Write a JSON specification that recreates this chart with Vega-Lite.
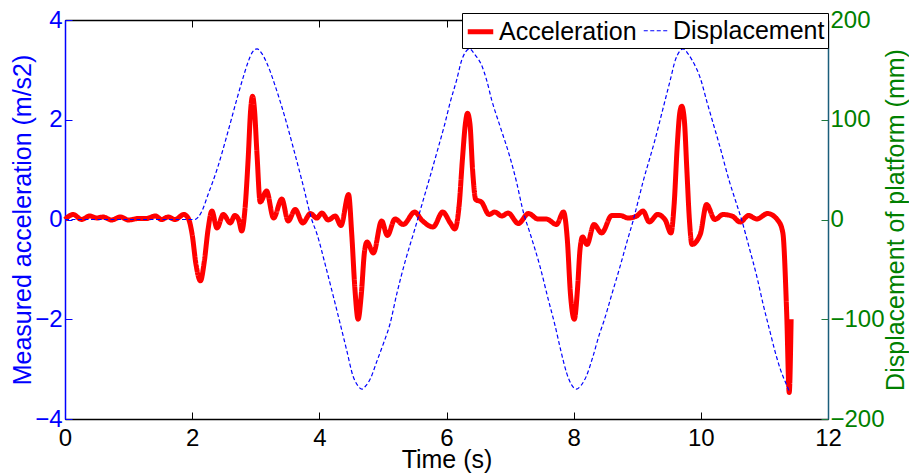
{
  "$schema": "https://vega.github.io/schema/vega-lite/v6.json",
  "width": 763,
  "height": 399,
  "autosize": {"type": "none"},
  "padding": {"left": 65, "top": 20, "right": 81, "bottom": 55},
  "background": "white",
  "config": {
    "font": "Liberation Sans",
    "view": {"stroke": "black", "strokeWidth": 1},
    "axis": {"grid": false, "labelFont": "Liberation Sans", "titleFont": "Liberation Sans", "labelFontSize": 24, "titleFontSize": 25, "titleFontWeight": "normal", "tickSize": -7, "domainWidth": 1.5, "tickWidth": 1}
  },
  "datasets": {
    "acc": [
      {"t": 0, "v": 0, "series": "Acceleration"},
      {"t": 0.13, "v": 0.1, "series": "Acceleration"},
      {"t": 0.26, "v": 0, "series": "Acceleration"},
      {"t": 0.39, "v": 0.07, "series": "Acceleration"},
      {"t": 0.5, "v": 0.03, "series": "Acceleration"},
      {"t": 0.6, "v": 0.05, "series": "Acceleration"},
      {"t": 0.73, "v": -0.01, "series": "Acceleration"},
      {"t": 0.87, "v": 0.05, "series": "Acceleration"},
      {"t": 1.0, "v": -0.01, "series": "Acceleration"},
      {"t": 1.15, "v": 0.02, "series": "Acceleration"},
      {"t": 1.28, "v": 0.02, "series": "Acceleration"},
      {"t": 1.42, "v": 0.07, "series": "Acceleration"},
      {"t": 1.52, "v": 0, "series": "Acceleration"},
      {"t": 1.62, "v": 0.05, "series": "Acceleration"},
      {"t": 1.73, "v": 0, "series": "Acceleration"},
      {"t": 1.87, "v": 0.1, "series": "Acceleration"},
      {"t": 1.94, "v": 0.02, "series": "Acceleration"},
      {"t": 2.0, "v": -0.3, "series": "Acceleration"},
      {"t": 2.06, "v": -0.9, "series": "Acceleration"},
      {"t": 2.13, "v": -1.23, "series": "Acceleration"},
      {"t": 2.19, "v": -0.85, "series": "Acceleration"},
      {"t": 2.25, "v": -0.2, "series": "Acceleration"},
      {"t": 2.31, "v": 0.17, "series": "Acceleration"},
      {"t": 2.39, "v": -0.17, "series": "Acceleration"},
      {"t": 2.49, "v": 0.1, "series": "Acceleration"},
      {"t": 2.6, "v": -0.07, "series": "Acceleration"},
      {"t": 2.67, "v": 0.08, "series": "Acceleration"},
      {"t": 2.73, "v": 0, "series": "Acceleration"},
      {"t": 2.78, "v": -0.23, "series": "Acceleration"},
      {"t": 2.83, "v": 0.2, "series": "Acceleration"},
      {"t": 2.88, "v": 1.2, "series": "Acceleration"},
      {"t": 2.92, "v": 2.2, "series": "Acceleration"},
      {"t": 2.95, "v": 2.47, "series": "Acceleration"},
      {"t": 2.98, "v": 2.2, "series": "Acceleration"},
      {"t": 3.02, "v": 1.3, "series": "Acceleration"},
      {"t": 3.07, "v": 0.35, "series": "Acceleration"},
      {"t": 3.17, "v": 0.57, "series": "Acceleration"},
      {"t": 3.28, "v": 0.03, "series": "Acceleration"},
      {"t": 3.41, "v": 0.41, "series": "Acceleration"},
      {"t": 3.51, "v": -0.03, "series": "Acceleration"},
      {"t": 3.62, "v": 0.2, "series": "Acceleration"},
      {"t": 3.74, "v": -0.07, "series": "Acceleration"},
      {"t": 3.86, "v": 0.12, "series": "Acceleration"},
      {"t": 3.96, "v": 0.03, "series": "Acceleration"},
      {"t": 4.04, "v": 0.13, "series": "Acceleration"},
      {"t": 4.14, "v": -0.01, "series": "Acceleration"},
      {"t": 4.25, "v": 0.07, "series": "Acceleration"},
      {"t": 4.34, "v": -0.12, "series": "Acceleration"},
      {"t": 4.46, "v": 0.5, "series": "Acceleration"},
      {"t": 4.51, "v": -0.3, "series": "Acceleration"},
      {"t": 4.56, "v": -1.4, "series": "Acceleration"},
      {"t": 4.61, "v": -2.0, "series": "Acceleration"},
      {"t": 4.66, "v": -1.5, "series": "Acceleration"},
      {"t": 4.71, "v": -0.65, "series": "Acceleration"},
      {"t": 4.75, "v": -0.45, "series": "Acceleration"},
      {"t": 4.85, "v": -0.67, "series": "Acceleration"},
      {"t": 4.98, "v": -0.03, "series": "Acceleration"},
      {"t": 5.07, "v": -0.32, "series": "Acceleration"},
      {"t": 5.19, "v": 0.01, "series": "Acceleration"},
      {"t": 5.32, "v": -0.1, "series": "Acceleration"},
      {"t": 5.5, "v": 0.15, "series": "Acceleration"},
      {"t": 5.61, "v": -0.01, "series": "Acceleration"},
      {"t": 5.79, "v": -0.15, "series": "Acceleration"},
      {"t": 5.94, "v": 0.15, "series": "Acceleration"},
      {"t": 6.06, "v": -0.07, "series": "Acceleration"},
      {"t": 6.13, "v": -0.19, "series": "Acceleration"},
      {"t": 6.2, "v": 0.3, "series": "Acceleration"},
      {"t": 6.25, "v": 1.2, "series": "Acceleration"},
      {"t": 6.3, "v": 1.95, "series": "Acceleration"},
      {"t": 6.33, "v": 2.13, "series": "Acceleration"},
      {"t": 6.37, "v": 1.9, "series": "Acceleration"},
      {"t": 6.41, "v": 1.0, "series": "Acceleration"},
      {"t": 6.46, "v": 0.4, "series": "Acceleration"},
      {"t": 6.55, "v": 0.35, "series": "Acceleration"},
      {"t": 6.67, "v": 0.1, "series": "Acceleration"},
      {"t": 6.76, "v": 0.15, "series": "Acceleration"},
      {"t": 6.87, "v": 0.07, "series": "Acceleration"},
      {"t": 6.97, "v": 0.13, "series": "Acceleration"},
      {"t": 7.13, "v": -0.08, "series": "Acceleration"},
      {"t": 7.29, "v": 0.12, "series": "Acceleration"},
      {"t": 7.44, "v": 0.01, "series": "Acceleration"},
      {"t": 7.57, "v": 0.01, "series": "Acceleration"},
      {"t": 7.73, "v": -0.1, "series": "Acceleration"},
      {"t": 7.84, "v": 0.15, "series": "Acceleration"},
      {"t": 7.9, "v": -0.4, "series": "Acceleration"},
      {"t": 7.95, "v": -1.5, "series": "Acceleration"},
      {"t": 8.01, "v": -2.0, "series": "Acceleration"},
      {"t": 8.06, "v": -1.4, "series": "Acceleration"},
      {"t": 8.1, "v": -0.6, "series": "Acceleration"},
      {"t": 8.14, "v": -0.35, "series": "Acceleration"},
      {"t": 8.21, "v": -0.5, "series": "Acceleration"},
      {"t": 8.32, "v": -0.1, "series": "Acceleration"},
      {"t": 8.44, "v": -0.27, "series": "Acceleration"},
      {"t": 8.6, "v": 0.08, "series": "Acceleration"},
      {"t": 8.73, "v": 0.08, "series": "Acceleration"},
      {"t": 8.86, "v": 0.03, "series": "Acceleration"},
      {"t": 8.99, "v": 0.07, "series": "Acceleration"},
      {"t": 9.09, "v": 0.17, "series": "Acceleration"},
      {"t": 9.19, "v": -0.05, "series": "Acceleration"},
      {"t": 9.32, "v": 0.1, "series": "Acceleration"},
      {"t": 9.44, "v": -0.01, "series": "Acceleration"},
      {"t": 9.53, "v": -0.27, "series": "Acceleration"},
      {"t": 9.58, "v": 0.3, "series": "Acceleration"},
      {"t": 9.63, "v": 1.5, "series": "Acceleration"},
      {"t": 9.67, "v": 2.15, "series": "Acceleration"},
      {"t": 9.7, "v": 2.27, "series": "Acceleration"},
      {"t": 9.74, "v": 2.0, "series": "Acceleration"},
      {"t": 9.78, "v": 1.0, "series": "Acceleration"},
      {"t": 9.82, "v": 0.0, "series": "Acceleration"},
      {"t": 9.86, "v": -0.5, "series": "Acceleration"},
      {"t": 9.99, "v": -0.3, "series": "Acceleration"},
      {"t": 10.09, "v": 0.3, "series": "Acceleration"},
      {"t": 10.22, "v": 0, "series": "Acceleration"},
      {"t": 10.35, "v": 0.1, "series": "Acceleration"},
      {"t": 10.49, "v": 0.07, "series": "Acceleration"},
      {"t": 10.62, "v": -0.05, "series": "Acceleration"},
      {"t": 10.75, "v": 0.08, "series": "Acceleration"},
      {"t": 10.88, "v": 0.01, "series": "Acceleration"},
      {"t": 11.05, "v": 0.12, "series": "Acceleration"},
      {"t": 11.22, "v": -0.03, "series": "Acceleration"},
      {"t": 11.29, "v": -0.27, "series": "Acceleration"},
      {"t": 11.35, "v": -1.87, "series": "Acceleration"},
      {"t": 11.39, "v": -3.47, "series": "Acceleration"},
      {"t": 11.42, "v": -2.0, "series": "Acceleration"}
    ],
    "disp": [
      {"t": 0, "v": 0, "series": "Displacement"},
      {"t": 1.0, "v": 0, "series": "Displacement"},
      {"t": 2.04, "v": 0, "series": "Displacement"},
      {"t": 2.15, "v": 8, "series": "Displacement"},
      {"t": 2.25, "v": 25, "series": "Displacement"},
      {"t": 2.4, "v": 52, "series": "Displacement"},
      {"t": 2.55, "v": 85, "series": "Displacement"},
      {"t": 2.7, "v": 120, "series": "Displacement"},
      {"t": 2.8, "v": 142, "series": "Displacement"},
      {"t": 2.88, "v": 158, "series": "Displacement"},
      {"t": 2.95, "v": 168, "series": "Displacement"},
      {"t": 3.02, "v": 171, "series": "Displacement"},
      {"t": 3.1, "v": 166, "series": "Displacement"},
      {"t": 3.18, "v": 156, "series": "Displacement"},
      {"t": 3.3, "v": 135, "series": "Displacement"},
      {"t": 3.47, "v": 100, "series": "Displacement"},
      {"t": 3.59, "v": 72, "series": "Displacement"},
      {"t": 3.75, "v": 33, "series": "Displacement"},
      {"t": 3.88, "v": 0, "series": "Displacement"},
      {"t": 3.96, "v": -14, "series": "Displacement"},
      {"t": 4.1, "v": -47, "series": "Displacement"},
      {"t": 4.22, "v": -77, "series": "Displacement"},
      {"t": 4.33, "v": -105, "series": "Displacement"},
      {"t": 4.43, "v": -131, "series": "Displacement"},
      {"t": 4.53, "v": -157, "series": "Displacement"},
      {"t": 4.6, "v": -166, "series": "Displacement"},
      {"t": 4.67, "v": -170, "series": "Displacement"},
      {"t": 4.74, "v": -166, "series": "Displacement"},
      {"t": 4.8, "v": -160, "series": "Displacement"},
      {"t": 4.9, "v": -143, "series": "Displacement"},
      {"t": 5.01, "v": -124, "series": "Displacement"},
      {"t": 5.11, "v": -105, "series": "Displacement"},
      {"t": 5.22, "v": -74, "series": "Displacement"},
      {"t": 5.35, "v": -42, "series": "Displacement"},
      {"t": 5.5, "v": -10, "series": "Displacement"},
      {"t": 5.6, "v": 12, "series": "Displacement"},
      {"t": 5.75, "v": 45, "series": "Displacement"},
      {"t": 5.87, "v": 72, "series": "Displacement"},
      {"t": 5.97, "v": 95, "series": "Displacement"},
      {"t": 6.06, "v": 118, "series": "Displacement"},
      {"t": 6.16, "v": 140, "series": "Displacement"},
      {"t": 6.24, "v": 160, "series": "Displacement"},
      {"t": 6.3, "v": 168, "series": "Displacement"},
      {"t": 6.36, "v": 171, "series": "Displacement"},
      {"t": 6.45, "v": 165, "series": "Displacement"},
      {"t": 6.55, "v": 155, "series": "Displacement"},
      {"t": 6.63, "v": 140, "series": "Displacement"},
      {"t": 6.71, "v": 120, "series": "Displacement"},
      {"t": 6.85, "v": 92, "series": "Displacement"},
      {"t": 7.0, "v": 62, "series": "Displacement"},
      {"t": 7.1, "v": 38, "series": "Displacement"},
      {"t": 7.21, "v": 7, "series": "Displacement"},
      {"t": 7.31, "v": -13, "series": "Displacement"},
      {"t": 7.47, "v": -47, "series": "Displacement"},
      {"t": 7.6, "v": -80, "series": "Displacement"},
      {"t": 7.71, "v": -107, "series": "Displacement"},
      {"t": 7.8, "v": -132, "series": "Displacement"},
      {"t": 7.89, "v": -154, "series": "Displacement"},
      {"t": 7.97, "v": -166, "series": "Displacement"},
      {"t": 8.04, "v": -170, "series": "Displacement"},
      {"t": 8.12, "v": -166, "series": "Displacement"},
      {"t": 8.2, "v": -157, "series": "Displacement"},
      {"t": 8.3, "v": -138, "series": "Displacement"},
      {"t": 8.41, "v": -114, "series": "Displacement"},
      {"t": 8.47, "v": -103, "series": "Displacement"},
      {"t": 8.6, "v": -75, "series": "Displacement"},
      {"t": 8.73, "v": -47, "series": "Displacement"},
      {"t": 8.84, "v": -22, "series": "Displacement"},
      {"t": 8.94, "v": 0, "series": "Displacement"},
      {"t": 9.02, "v": 20, "series": "Displacement"},
      {"t": 9.1, "v": 40, "series": "Displacement"},
      {"t": 9.2, "v": 62, "series": "Displacement"},
      {"t": 9.28, "v": 80, "series": "Displacement"},
      {"t": 9.4, "v": 110, "series": "Displacement"},
      {"t": 9.52, "v": 140, "series": "Displacement"},
      {"t": 9.6, "v": 160, "series": "Displacement"},
      {"t": 9.66, "v": 168, "series": "Displacement"},
      {"t": 9.72, "v": 171, "series": "Displacement"},
      {"t": 9.8, "v": 166, "series": "Displacement"},
      {"t": 9.86, "v": 160, "series": "Displacement"},
      {"t": 9.99, "v": 142, "series": "Displacement"},
      {"t": 10.1, "v": 117, "series": "Displacement"},
      {"t": 10.2, "v": 95, "series": "Displacement"},
      {"t": 10.3, "v": 73, "series": "Displacement"},
      {"t": 10.45, "v": 38, "series": "Displacement"},
      {"t": 10.55, "v": 18, "series": "Displacement"},
      {"t": 10.64, "v": 0, "series": "Displacement"},
      {"t": 10.76, "v": -28, "series": "Displacement"},
      {"t": 10.88, "v": -57, "series": "Displacement"},
      {"t": 10.98, "v": -85, "series": "Displacement"},
      {"t": 11.09, "v": -113, "series": "Displacement"},
      {"t": 11.17, "v": -133, "series": "Displacement"},
      {"t": 11.25, "v": -150, "series": "Displacement"},
      {"t": 11.33, "v": -163, "series": "Displacement"},
      {"t": 11.39, "v": -172, "series": "Displacement"}
    ]
  },
  "resolve": {"scale": {"y": "independent"}, "axis": {"x": "independent", "y": "independent"}},
  "layer": [
    {
      "data": {"name": "acc"},
      "mark": {"type": "line", "interpolate": "monotone", "strokeCap": "butt", "strokeJoin": "round"},
      "encoding": {
        "x": {"field": "t", "type": "quantitative", "scale": {"domain": [0, 12], "nice": false},
          "axis": {"orient": "bottom", "values": [0, 2, 4, 6, 8, 10, 12], "title": "Time (s)", "domainColor": "black", "tickColor": "black", "labelColor": "black", "titleColor": "black", "labelPadding": 14, "titlePadding": -3, "labelFlush": false}},
        "y": {"field": "v", "type": "quantitative", "scale": {"domain": [-4, 4], "nice": false},
          "axis": {"orient": "left", "values": [-4, -2, 0, 2, 4], "title": "Measured acceleration (m/s2)", "domainColor": "#0000ff", "tickColor": "#0000ff", "labelColor": "#0000ff", "titleColor": "#0000ff", "labelPadding": 10, "titlePadding": -1, "labelFlush": false}},
        "color": {"field": "series", "type": "nominal", "scale": {"domain": ["Acceleration", "Displacement"], "range": ["#ff0000", "#0000ff"]},
          "legend": {"orient": "none", "legendX": 397, "legendY": -7, "direction": "horizontal", "title": null, "labelFontSize": 25, "labelColor": "black", "labelFont": "Liberation Sans", "symbolType": "stroke", "symbolSize": 650, "strokeColor": "black", "fillColor": "white", "padding": 3, "columnPadding": 4, "labelOffset": 3}},
        "strokeDash": {"field": "series", "type": "nominal", "scale": {"domain": ["Acceleration", "Displacement"], "range": [[1, 0], [4, 2.5]]},
          "legend": {"orient": "none", "legendX": 397, "legendY": -7, "direction": "horizontal", "title": null, "labelFontSize": 25, "labelColor": "black", "labelFont": "Liberation Sans", "symbolType": "stroke", "symbolSize": 650, "strokeColor": "black", "fillColor": "white", "padding": 3, "columnPadding": 4, "labelOffset": 3}},
        "strokeWidth": {"field": "series", "type": "nominal", "scale": {"domain": ["Acceleration", "Displacement"], "range": [5, 1.2]},
          "legend": {"orient": "none", "legendX": 397, "legendY": -7, "direction": "horizontal", "title": null, "labelFontSize": 25, "labelColor": "black", "labelFont": "Liberation Sans", "symbolType": "stroke", "symbolSize": 650, "strokeColor": "black", "fillColor": "white", "padding": 3, "columnPadding": 4, "labelOffset": 3}}
      }
    },
    {
      "data": {"name": "disp"},
      "mark": {"type": "line", "interpolate": "monotone"},
      "encoding": {
        "x": {"field": "t", "type": "quantitative", "scale": {"domain": [0, 12], "nice": false},
          "axis": {"orient": "top", "values": [0, 2, 4, 6, 8, 10, 12], "labels": false, "title": null, "domainColor": "black", "tickColor": "black"}},
        "y": {"field": "v", "type": "quantitative", "scale": {"domain": [-200, 200], "nice": false},
          "axis": {"orient": "right", "values": [-200, -100, 0, 100, 200], "title": "Displacement of platform (mm)", "titleAngle": 270, "domainColor": "#1b5e7b", "tickColor": "#1f7a3a", "labelColor": "#008000", "titleColor": "#008000", "labelPadding": 9, "titlePadding": 24, "labelFlush": false}},
        "color": {"field": "series", "type": "nominal", "scale": {"domain": ["Acceleration", "Displacement"], "range": ["#ff0000", "#0000ff"]}},
        "strokeDash": {"field": "series", "type": "nominal", "scale": {"domain": ["Acceleration", "Displacement"], "range": [[1, 0], [4, 2.5]]}},
        "strokeWidth": {"field": "series", "type": "nominal", "scale": {"domain": ["Acceleration", "Displacement"], "range": [5, 1.2]}}
      }
    }
  ]
}
